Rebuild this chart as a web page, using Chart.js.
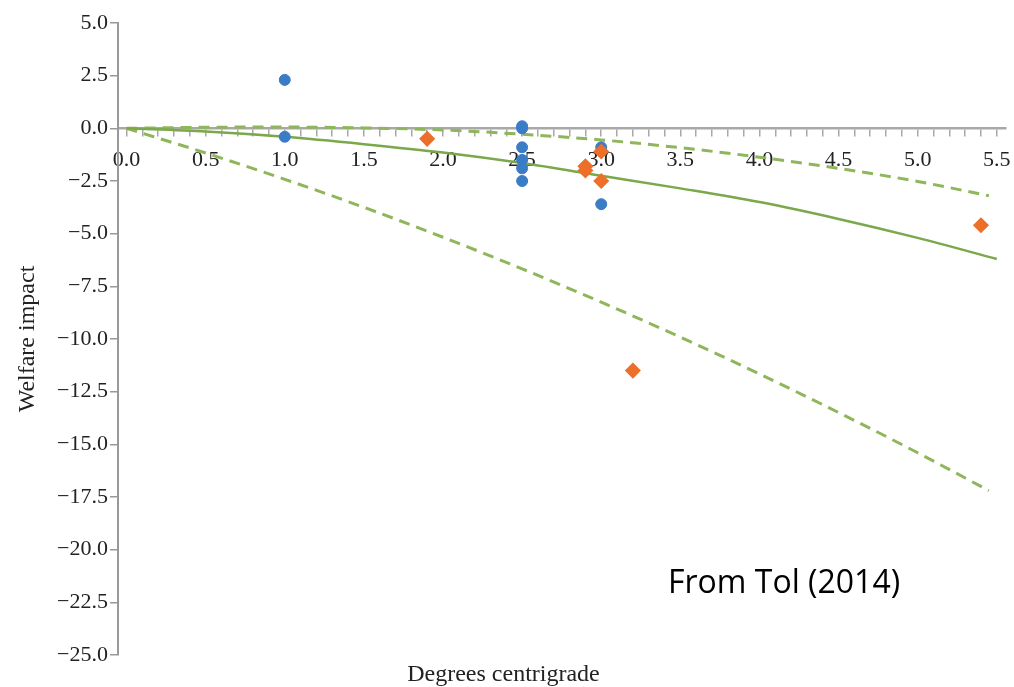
<!DOCTYPE html>
<html>
<head>
<meta charset="utf-8">
<script src="https://cdn.jsdelivr.net/npm/chart.js@4.4.1/dist/chart.umd.min.js"></script>
<style>
  body { margin: 0; background: #fff; }
</style>
</head>
<body>
<canvas id="tol-chart" width="1014" height="687"></canvas>
<script>
// Estimates from the literature (blue: earlier studies, orange: newer ones)
const blueX = [1.0, 1.0, 2.5, 2.5, 2.5, 2.5, 2.5, 2.5, 3.0, 3.0];
const blueY = [2.3, -0.4, 0.1, 0.0, -0.9, -1.5, -1.9, -2.5, -0.9, -3.6];
const orangeX = [1.9, 2.9, 2.9, 3.0, 3.0, 3.2, 5.4];
const orangeY = [-0.5, -1.8, -2.0, -1.1, -2.5, -11.5, -4.6];

// fitted curve and its bounds
const fitX = [0, 0.5, 1.0, 1.5, 2.0, 2.5, 3.0, 3.5, 4.0, 4.5, 5.0, 5.5];
const fitY = [0, -0.15, -0.4, -0.75, -1.15, -1.65, -2.25, -2.85, -3.5, -4.3, -5.2, -6.2];
const boundX = [0, 0.5, 1.0, 1.5, 2.0, 2.5, 3.0, 3.5, 4.0, 4.5, 5.0, 5.45];
const upperY = [0, 0.05, 0.06, 0.02, -0.08, -0.28, -0.55, -0.92, -1.37, -1.9, -2.52, -3.2];
const lowerY = [0, -1.17, -2.42, -3.75, -5.17, -6.67, -8.25, -9.91, -11.66, -13.49, -15.4, -17.2];

const toPoints = (xs, ys) => xs.map((x, i) => ({x: x, y: ys[i]}));

const serif = 'Liberation Serif';
const green = '#7aa84a';
const greenLight = '#8fb65a';

// "From Tol (2014)" note in the lower right
const notePlugin = {
    id: 'note',
    afterDraw(chart) {
        const ctx = chart.ctx;
        ctx.save();
        ctx.font = '32px "Open Sans"';
        ctx.fillStyle = '#000';
        ctx.textBaseline = 'alphabetic';
        ctx.textAlign = 'left';
        ctx.fillText('From Tol (2014)', 668, 593);
        ctx.restore();
    }
};

const ctx = document.getElementById('tol-chart');

new Chart(ctx, {
    type: 'scatter',
    data: {
        datasets: [
            {
                label: 'Newer estimates',
                data: toPoints(orangeX, orangeY),
                backgroundColor: '#ec6f2a',
                borderColor: '#ec6f2a',
                borderWidth: 1.5,
                pointRadius: 7,
                pointStyle: 'rectRot'
            },
            {
                label: 'Older estimates',
                data: toPoints(blueX, blueY),
                backgroundColor: '#3b7cc6',
                borderColor: '#3b7cc6',
                pointRadius: 5.5,
                pointStyle: 'circle'
            },
            {
                label: 'Fit',
                data: toPoints(fitX, fitY),
                showLine: true,
                borderColor: green,
                borderWidth: 2.5,
                pointRadius: 0,
                cubicInterpolationMode: 'monotone'
            },
            {
                label: 'Upper bound',
                data: toPoints(boundX, upperY),
                showLine: true,
                borderColor: greenLight,
                borderWidth: 3,
                borderDash: [11, 7],
                pointRadius: 0,
                cubicInterpolationMode: 'monotone'
            },
            {
                label: 'Lower bound',
                data: toPoints(boundX, lowerY),
                showLine: true,
                borderColor: greenLight,
                borderWidth: 3,
                borderDash: [11, 7],
                pointRadius: 0,
                cubicInterpolationMode: 'monotone'
            }
        ]
    },
    options: {
        responsive: false,
        animation: false,
        devicePixelRatio: 1,
        layout: {
            padding: {top: 23, right: 7, bottom: 0, left: 0}
        },
        scales: {
            x: {
                type: 'linear',
                position: {y: 0},
                min: -0.054,
                max: 5.555,
                border: {color: '#a8a8a8', width: 2.5},
                grid: {
                    drawOnChartArea: false,
                    drawTicks: true,
                    tickLength: 7,
                    tickColor: '#a8a8a8',
                    lineWidth: 1.5
                },
                ticks: {
                    stepSize: 0.1,
                    includeBounds: false,
                    autoSkip: false,
                    maxRotation: 0,
                    padding: 12,
                    color: '#222',
                    font: {family: serif, size: 22},
                    callback: function (value) {
                        const r = Math.round(value * 2);
                        if (value >= 0 && Math.abs(value * 2 - r) < 1e-6) {
                            return (r / 2).toFixed(1);
                        }
                        return '';
                    }
                },
                afterFit: function (scale) {
                    // labels may hang past the axis ends, keep the plot wide
                    scale.paddingLeft = 0;
                    scale.paddingRight = 0;
                }
            },
            y: {
                type: 'linear',
                min: -25,
                max: 5,
                border: {color: '#999', width: 2},
                grid: {
                    drawOnChartArea: false,
                    tickLength: 8,
                    tickColor: '#999',
                    lineWidth: 1.5
                },
                ticks: {
                    stepSize: 2.5,
                    padding: 2,
                    color: '#222',
                    font: {family: serif, size: 22},
                    callback: function (value) {
                        return (value < 0 ? '\u2212' : '') + Math.abs(value).toFixed(1);
                    }
                },
                title: {
                    display: true,
                    text: 'Welfare impact',
                    color: '#222',
                    font: {family: serif, size: 24},
                    padding: {top: 13, bottom: 0}
                },
                afterFit: function (scale) {
                    scale.width = 118;
                }
            }
        },
        plugins: {
            legend: {display: false},
            tooltip: {enabled: false},
            title: {
                display: true,
                position: 'bottom',
                text: 'Degrees centrigrade',
                color: '#222',
                font: {family: serif, size: 24, weight: 'normal', lineHeight: 1.0},
                padding: {top: 8, bottom: 0}
            }
        }
    },
    plugins: [notePlugin]
});
</script>
</body>
</html>
